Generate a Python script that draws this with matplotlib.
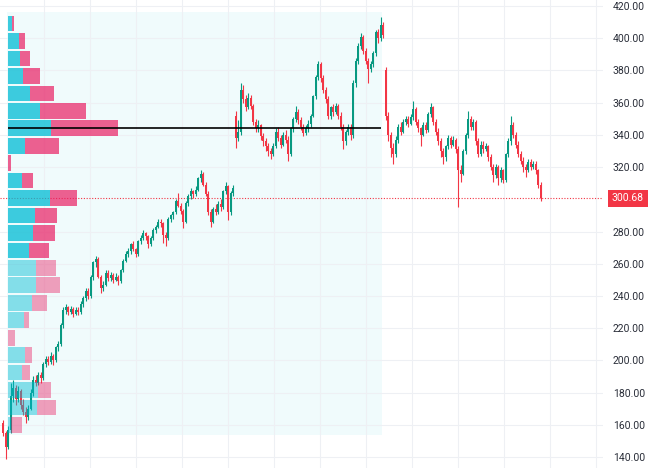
import matplotlib.pyplot as plt
import matplotlib.patches as mpatches
import numpy as np

# daily candles (open, high, low, close)
opens = [161, 155, 146, 157, 178, 183, 176, 181, 172, 168, 165, 170, 180, 188, 186, 191, 189, 198, 201, 199,
         203, 200, 208, 210, 222, 231, 233, 230, 232, 229, 231, 230, 235, 239, 243, 240, 252, 261, 263, 252,
         245, 247, 254, 251, 253, 250, 252, 249, 256, 262, 266, 268, 272, 269, 266, 274, 276, 279, 277, 272,
         276, 281, 283, 286, 285, 278, 276, 288, 290, 292, 299, 296, 293, 286, 298, 302, 305, 303, 306, 313,
         316, 309, 303, 292, 286, 294, 292, 297, 295, 305, 308, 292, 304, 352, 338, 342, 368, 362, 357, 363,
         358, 348, 344, 346, 339, 336, 333, 330, 328, 333, 342, 338, 334, 340, 337, 328, 344, 350, 354, 349,
         345, 341, 344, 347, 352, 364, 376, 384, 375, 368, 362, 352, 357, 354, 358, 352, 345, 336, 342, 345,
         340, 372, 386, 395, 401, 392, 386, 381, 384, 391, 404, 400, 408, 380, 352, 340, 332, 328, 337, 345,
         342, 348, 350, 347, 351, 356, 348, 344, 340, 346, 343, 353, 357, 348, 342, 336, 330, 326, 333, 338,
         334, 337, 331, 318, 316, 330, 340, 350, 345, 348, 336, 328, 334, 331, 333, 326, 320, 315, 320, 313,
         318, 312, 328, 336, 346, 340, 334, 328, 324, 320, 318, 323, 320, 322, 318, 309]
highs = [163, 156, 159, 186, 188, 185, 184, 182, 176, 171, 172, 182, 190, 191, 193, 193, 199, 203, 203, 205,
         204, 209, 212, 223, 233, 235, 234, 234, 233, 233, 233, 237, 240, 245, 245, 253, 262, 265, 264, 253,
         249, 256, 256, 255, 254, 254, 253, 257, 263, 268, 270, 273, 274, 270, 275, 278, 281, 280, 278, 277,
         282, 284, 288, 288, 286, 280, 289, 291, 293, 300, 304, 298, 294, 299, 303, 307, 306, 308, 314, 318,
         317, 311, 305, 294, 295, 297, 299, 300, 306, 311, 309, 305, 309, 355, 349, 372, 371, 365, 366, 365,
         359, 350, 349, 347, 341, 338, 335, 332, 335, 344, 345, 340, 342, 343, 339, 345, 351, 358, 356, 351,
         347, 346, 349, 353, 365, 377, 386, 385, 377, 370, 364, 358, 359, 360, 359, 354, 347, 343, 347, 347,
         374, 388, 397, 403, 402, 394, 388, 386, 392, 405, 406, 413, 410, 382, 354, 342, 335, 339, 347, 348,
         350, 352, 352, 353, 361, 357, 350, 345, 348, 348, 354, 360, 358, 350, 344, 338, 332, 334, 340, 339,
         339, 338, 333, 321, 331, 341, 355, 352, 350, 349, 338, 336, 336, 335, 334, 328, 322, 322, 321, 320,
         319, 329, 338, 352, 348, 342, 336, 330, 326, 322, 325, 325, 324, 324, 319, 311]
lows = [153, 139, 145, 155, 174, 172, 174, 170, 166, 161, 163, 169, 178, 184, 185, 186, 188, 196, 197, 198,
        197, 199, 206, 209, 220, 229, 228, 229, 227, 228, 228, 229, 233, 237, 238, 239, 250, 258, 251, 242,
        243, 246, 249, 249, 248, 249, 247, 248, 255, 261, 264, 266, 268, 264, 265, 272, 275, 275, 270, 271,
        275, 279, 282, 283, 273, 271, 275, 286, 288, 291, 295, 291, 282, 285, 296, 300, 301, 302, 305, 311,
        308, 302, 290, 283, 285, 290, 291, 293, 294, 303, 287, 290, 302, 332, 336, 340, 360, 355, 356, 356,
        346, 342, 342, 337, 333, 330, 327, 325, 327, 332, 336, 332, 333, 335, 324, 327, 342, 348, 347, 343,
        339, 340, 342, 345, 351, 362, 374, 373, 366, 360, 350, 350, 352, 353, 350, 343, 331, 334, 340, 337,
        338, 370, 384, 393, 390, 384, 372, 379, 382, 389, 397, 398, 400, 349, 336, 326, 322, 326, 335, 340,
        341, 346, 345, 346, 349, 346, 342, 333, 339, 341, 342, 351, 346, 340, 334, 326, 322, 324, 331, 332,
        333, 329, 295, 311, 315, 328, 338, 343, 343, 334, 326, 327, 329, 330, 324, 318, 311, 313, 309, 311,
        310, 311, 326, 334, 338, 332, 326, 322, 317, 314, 317, 318, 319, 316, 307, 299]
closes = [155, 146, 157, 178, 183, 176, 181, 172, 168, 165, 170, 180, 188, 186, 191, 189, 198, 201, 199, 203,
          200, 208, 210, 222, 231, 233, 230, 232, 229, 231, 230, 235, 239, 243, 240, 252, 261, 263, 252, 245,
          247, 254, 251, 253, 250, 252, 249, 256, 262, 266, 268, 272, 269, 266, 274, 276, 279, 277, 272, 276,
          281, 283, 286, 285, 278, 276, 288, 290, 292, 299, 296, 293, 286, 298, 302, 305, 303, 306, 313, 316,
          309, 303, 292, 286, 294, 292, 297, 295, 305, 308, 292, 304, 307, 338, 342, 368, 362, 357, 363, 358,
          348, 344, 346, 339, 336, 333, 330, 328, 333, 342, 338, 334, 340, 337, 328, 344, 350, 354, 349, 345,
          341, 344, 347, 352, 364, 376, 384, 375, 368, 362, 352, 357, 354, 358, 352, 345, 336, 342, 345, 340,
          372, 386, 395, 401, 392, 386, 381, 384, 391, 404, 400, 408, 402, 352, 340, 332, 328, 337, 345, 342,
          348, 350, 347, 351, 356, 348, 344, 340, 346, 343, 353, 357, 348, 342, 336, 330, 326, 333, 338, 334,
          337, 331, 318, 316, 330, 340, 350, 345, 348, 336, 328, 334, 331, 333, 326, 320, 315, 320, 313, 318,
          312, 328, 336, 346, 340, 334, 328, 324, 320, 318, 323, 320, 322, 318, 309, 300.68]

last_price = 300.68

# fixed range volume profile (rows listed top to bottom)
profile_start, profile_end = 2, 151
vp_low, vp_high = 154.5, 414.5
vp_up = [4, 11, 12, 15, 22, 32, 43, 17, 0, 14, 42, 27, 25, 21, 28, 28, 24, 16, 0, 17, 14, 30, 29, 3]
vp_down = [2, 6, 10, 17, 24, 46, 67, 34, 3, 11, 27, 22, 22, 20, 20, 24, 15, 5, 7, 7, 8, 13, 19, 11]
va_rows = 14

price_ticks = [140, 160, 180, 200, 220, 240, 260, 280, 320, 340, 360, 380, 400, 420]

GREEN = '#089981'
RED = '#F23645'

fig = plt.figure(figsize=(6.5, 4.68), dpi=100)
ax = fig.add_axes([0, 0, 603 / 650, 1])

o, h, l, c = (np.array(v, dtype=float) for v in (opens, highs, lows, closes))
x = np.arange(len(c))
cols = np.where(c >= o, GREEN, RED)

# profile background
ax.add_patch(mpatches.Rectangle((profile_start - 0.4, vp_low - 0.8), profile_end - profile_start + 0.8,
                                vp_high - vp_low + 2.5, facecolor='#F0FBFC', edgecolor='none', zorder=0.5))

# last price line
ax.axhline(last_price, color=RED, lw=0.8, ls=(0, (1, 1.5)), zorder=1.5)

# candles
ax.vlines(x, l, h, colors=cols, lw=0.8, zorder=2)
ax.bar(x, np.maximum(np.abs(c - o), 0.6), bottom=np.minimum(o, c), width=0.72,
       color=cols, lw=0, zorder=2.1)

# volume profile rows
up = np.array(vp_up, dtype=float)
down = np.array(vp_down, dtype=float)
n_rows = len(up)
step = (vp_high - vp_low) / n_rows
centers = vp_high - step * (np.arange(n_rows) + 0.5)
scale = 0.295 * (profile_end - profile_start) / (up + down).max()
in_va = np.arange(n_rows) < va_rows
up_cols = [(0, 188 / 255, 212 / 255, 0.75) if v else (0, 188 / 255, 212 / 255, 0.45) for v in in_va]
dn_cols = [(233 / 255, 30 / 255, 99 / 255, 0.7) if v else (233 / 255, 30 / 255, 99 / 255, 0.42) for v in in_va]
ax.barh(centers, up * scale, height=step * 0.9, left=profile_start, color=up_cols, lw=0, zorder=3)
ax.barh(centers, down * scale, height=step * 0.9, left=profile_start + up * scale, color=dn_cols, lw=0, zorder=3)

poc = centers[np.argmax(up + down)]
ax.hlines(poc, profile_start, profile_end + 0.3, color='black', lw=1.2, zorder=4)

# axes & grid
ax.set_xlim(-1.2, 240)
ax.set_ylim(133.2, 423.7)
ax.set_xticks(np.arange(16.4, 240, 18.4))
ax.set_yticks(price_ticks)
ax.set_yticklabels([f'{t:.2f}' for t in price_ticks])
ax.yaxis.tick_right()
ax.tick_params(axis='x', length=0, labelbottom=False)
ax.tick_params(axis='y', length=0, pad=7, labelsize=7.5, labelcolor='#2a2e39')
for lab in ax.get_yticklabels():
    lab.set_family('Roboto')
ax.grid(color='#eef0f4', lw=0.8, zorder=0)
ax.set_axisbelow(True)
for s in ax.spines.values():
    s.set_visible(False)

ax.text(1 + 9 / 603, last_price, f'{last_price:.2f}', transform=ax.get_yaxis_transform(),
        ha='left', va='center', color='white', fontsize=7.5, family='Roboto', clip_on=False,
        bbox=dict(boxstyle='square,pad=0.35', fc=RED, ec='none'))

fig.savefig('out.png', dpi=100)
